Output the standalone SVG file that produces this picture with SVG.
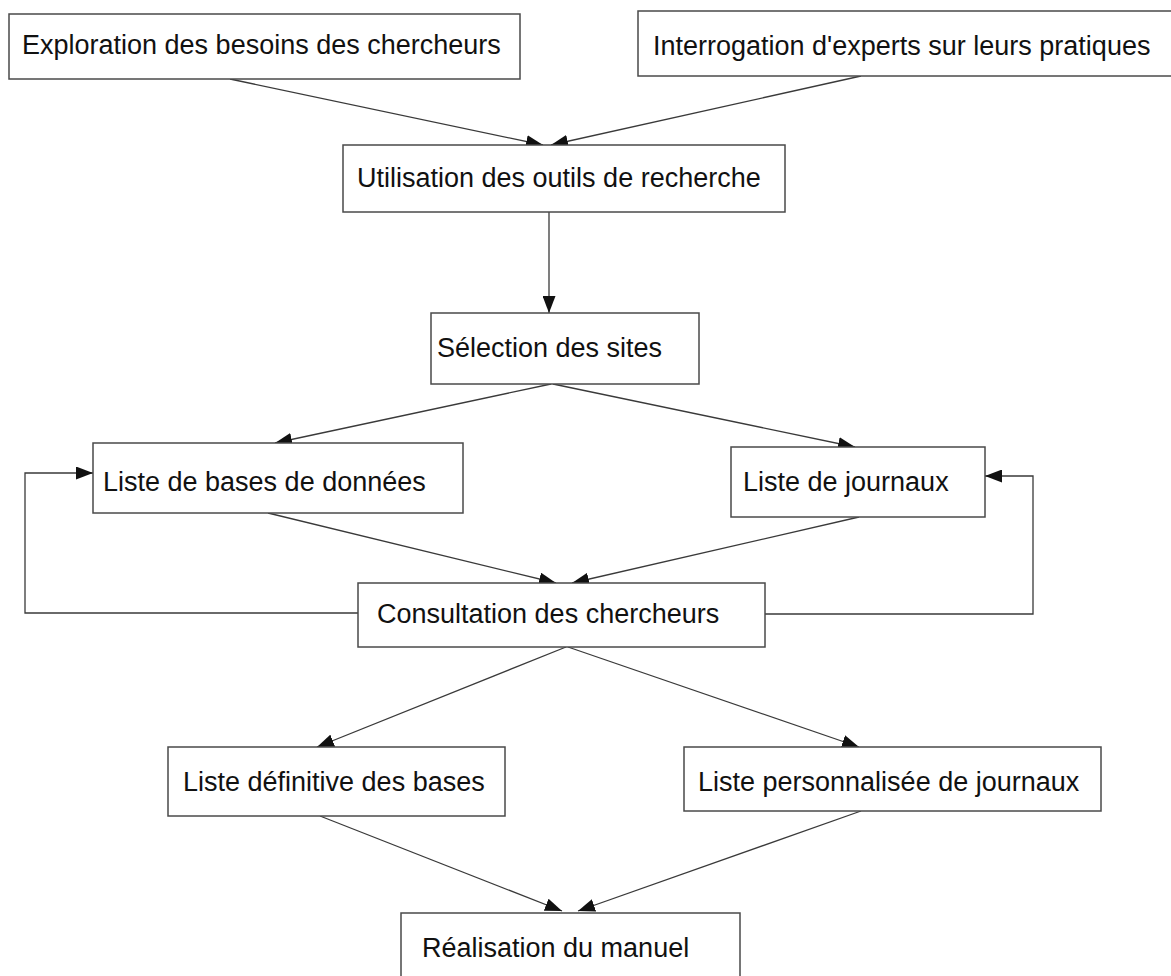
<svg xmlns="http://www.w3.org/2000/svg" width="1171" height="976" viewBox="0 0 1171 976">
<style>
.box{fill:#fff;stroke:#4a4a4a;stroke-width:1.5}
.lbl{font-family:"Liberation Sans",Arial,sans-serif;font-size:27px;fill:#111}
.c{fill:none;stroke:#3a3a3a;stroke-width:1.3;marker-end:url(#ah)}
</style>
<defs>
<marker id="ah" markerUnits="userSpaceOnUse" markerWidth="17" markerHeight="13" refX="17" refY="6.5" orient="auto">
<path d="M0,0 L17,6.5 L0,13 z" fill="#111"/>
</marker>
</defs>
<rect width="1171" height="976" fill="#fff"/>
<g id="connectors">
<line class="c" x1="230" y1="79" x2="543" y2="145"/>
<line class="c" x1="861" y1="76" x2="551" y2="145"/>
<line class="c" x1="549" y1="212" x2="549" y2="313"/>
<line class="c" x1="551" y1="384" x2="275" y2="443"/>
<line class="c" x1="553" y1="384" x2="855" y2="447"/>
<line class="c" x1="268" y1="513" x2="556" y2="583"/>
<line class="c" x1="859" y1="517" x2="572" y2="583"/>
<polyline class="c" points="358,613 25,613 25,473 93,473"/>
<polyline class="c" points="765,614 1033,614 1033,476 985,476"/>
<line class="c" x1="566" y1="647" x2="317" y2="747"/>
<line class="c" x1="568" y1="647" x2="859" y2="747"/>
<line class="c" x1="320" y1="816" x2="562" y2="911"/>
<line class="c" x1="861" y1="811" x2="578" y2="911"/>
</g>
<g id="n1"><rect class="box" x="9" y="14" width="511" height="65"/><text class="lbl" x="22" y="54">Exploration des besoins des chercheurs</text></g>
<g id="n2"><rect class="box" x="638" y="11" width="540" height="65"/><text class="lbl" x="653" y="55">Interrogation d'experts sur leurs pratiques</text></g>
<g id="n3"><rect class="box" x="343" y="145" width="442" height="67"/><text class="lbl" x="357" y="187">Utilisation des outils de recherche</text></g>
<g id="n4"><rect class="box" x="431" y="313" width="268" height="71"/><text class="lbl" x="437" y="357">Sélection des sites</text></g>
<g id="n5"><rect class="box" x="93" y="443" width="370" height="70"/><text class="lbl" x="103" y="491">Liste de bases de données</text></g>
<g id="n6"><rect class="box" x="731" y="447" width="254" height="70"/><text class="lbl" x="743" y="491">Liste de journaux</text></g>
<g id="n7"><rect class="box" x="358" y="583" width="407" height="64"/><text class="lbl" x="377" y="623">Consultation des chercheurs</text></g>
<g id="n8"><rect class="box" x="168" y="747" width="337" height="69"/><text class="lbl" x="183" y="791">Liste définitive des bases</text></g>
<g id="n9"><rect class="box" x="684" y="747" width="417" height="64"/><text class="lbl" x="698" y="791">Liste personnalisée de journaux</text></g>
<g id="n10"><rect class="box" x="401" y="913" width="339" height="80"/><text class="lbl" x="422" y="957">Réalisation du manuel</text></g>
</svg>
